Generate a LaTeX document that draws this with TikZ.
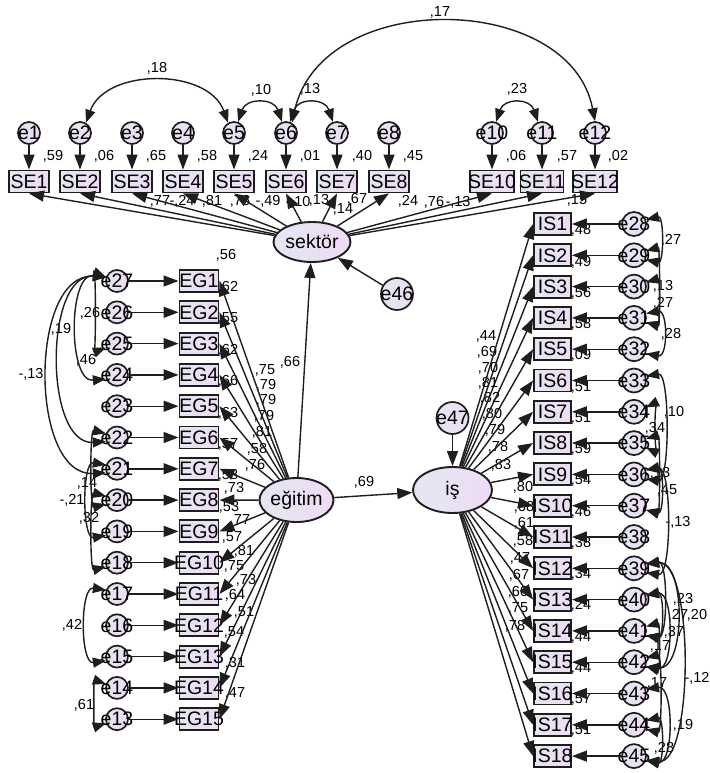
\documentclass[tikz,border=0pt]{standalone}
\usepackage{fontspec}
\setmainfont{Liberation Sans}
\usetikzlibrary{arrows.meta,shapes.geometric}
\definecolor{fillA}{RGB}{228,231,241}
\definecolor{fillB}{RGB}{238,219,246}
\definecolor{nline}{RGB}{30,30,30}
\newcommand\mytxt[1]{\makebox[0pt]{#1}}
\newcounter{lbc}
\newcommand\lb[2]{\stepcounter{lbc}\node[lab] (lb\thelbc) at #1 {#2};}
\newcommand\rcov[3]{\draw[cov] (#1.20) .. controls +(#3,-4) and +(#3,4) .. (#2.-20);}
\newcommand\lcov[3]{\draw[cov] (#1.160) .. controls +(-#3,-4) and +(-#3,4) .. (#2.200);}
\begin{document}
\begin{tikzpicture}[x=1pt,y=-1pt,
  shd/.style={left color=fillA,right color=fillB,draw=nline},
  obs/.style={shd,line width=1.9pt,rectangle,inner sep=0pt,minimum height=22pt,minimum width=39pt,font=\fontsize{19.5}{19}\selectfont},
  err/.style={shd,line width=1.7pt,circle,inner sep=0pt,minimum size=22pt,font=\fontsize{19.5}{19}\selectfont},
  lat/.style={shd,line width=1.9pt,ellipse,inner sep=0pt,font=\fontsize{19.5}{19}\selectfont},
  lab/.style={inner sep=0pt,font=\fontsize{14.5}{15}\selectfont},
  reg/.style={line width=1.4pt,draw=nline,-{Triangle[length=15pt,width=11pt]}},
  cov/.style={line width=1.4pt,draw=nline,{Triangle[length=13pt,width=10pt]}-{Triangle[length=13pt,width=10pt]}},
]
\useasboundingbox (0,0) rectangle (709,773);

% ---------- labels (drawn first) ----------
% top R2
\lb{(53,156)}{,59}\lb{(104,156)}{,06}\lb{(156,156)}{,65}\lb{(207,156)}{,58}
\lb{(258,156)}{,24}\lb{(310,156)}{,01}\lb{(362,156)}{,40}\lb{(413,156)}{,45}
\lb{(516,156)}{,06}\lb{(567,156)}{,57}\lb{(618,156)}{,02}
% top covariances
\lb{(157,68)}{,18}\lb{(261,90)}{,10}\lb{(310,89)}{,13}\lb{(440,12)}{,17}\lb{(517,89)}{,23}
% sektor loadings
\lb{(160,201)}{,77}\lb{(182,201)}{-,24}\lb{(212,201)}{,81}\lb{(240,201)}{,76}
\lb{(268,201)}{-,49}\lb{(298,202)}{-,10}\lb{(319,200)}{,13}\lb{(343,209)}{,14}
\lb{(357,199)}{,67}\lb{(408,201)}{,24}\lb{(434,202)}{,76}\lb{(458,202)}{-,13}
% structural
\lb{(290,362)}{,66}\lb{(364,482)}{,69}
% EG R2
\lb{(226,255)}{,56}\lb{(228,287)}{,62}\lb{(228,318)}{,55}\lb{(228,350)}{,62}
\lb{(228,381)}{,66}\lb{(228,413)}{,63}\lb{(228,444)}{,57}\lb{(228,475)}{,58}
\lb{(229,507)}{,53}\lb{(232,537)}{,57}\lb{(234,566)}{,75}\lb{(235,595)}{,64}
\lb{(234,632)}{,54}\lb{(235,663)}{,31}\lb{(235,693)}{,47}
% EG loadings
\lb{(265,370)}{,75}\lb{(266,385)}{,79}\lb{(266,400)}{,79}\lb{(264,416)}{,79}
\lb{(262,432)}{,81}\lb{(257,449)}{,58}\lb{(255,465)}{,76}\lb{(234,488)}{,73}
\lb{(240,520)}{,77}\lb{(244,551)}{,81}\lb{(246,580)}{,73}\lb{(244,612)}{,51}
% left covariances
\lb{(90,313)}{,26}\lb{(86,360)}{,46}\lb{(61,329)}{,19}\lb{(31,374)}{-,13}
\lb{(87,483)}{,14}\lb{(72,500)}{-,21}\lb{(89,518)}{,32}\lb{(72,625)}{,42}\lb{(84,705)}{,61}
% IS loadings
\lb{(486,336)}{,44}\lb{(487,352)}{,69}\lb{(488,368)}{,70}\lb{(488,383)}{,81}
\lb{(490,398)}{,82}\lb{(492,414)}{,80}\lb{(495,430)}{,79}\lb{(498,447)}{,78}
\lb{(501,465)}{,83}\lb{(523,487)}{,80}\lb{(524,507)}{,68}\lb{(524,523)}{,61}
\lb{(523,541)}{,58}\lb{(520,558)}{,47}\lb{(519,575)}{,67}\lb{(518,592)}{,60}
\lb{(518,608)}{,75}\lb{(515,626)}{,78}
% IS R2
\lb{(577,200)}{,15}
\lb{(581,230)}{,48}\lb{(581,262)}{,49}\lb{(581,293)}{,56}\lb{(581,324)}{,58}
\lb{(581,355)}{,09}\lb{(581,387)}{,51}\lb{(581,418)}{,51}\lb{(581,449)}{,59}
\lb{(581,480)}{,54}\lb{(581,512)}{,46}\lb{(581,543)}{,38}\lb{(581,574)}{,34}
\lb{(581,605)}{,24}\lb{(581,637)}{,44}\lb{(581,668)}{,44}\lb{(581,699)}{,57}
\lb{(581,730)}{,51}
% right covariances
\lb{(671,240)}{,27}\lb{(663,286)}{,13}\lb{(663,303)}{,27}\lb{(671,334)}{,28}
\lb{(674,412)}{,10}\lb{(655,428)}{,34}\lb{(660,473)}{,13}\lb{(667,490)}{,45}
\lb{(678,522)}{-,13}\lb{(683,599)}{,23}\lb{(678,615)}{,27}\lb{(697,615)}{,20}
\lb{(674,632)}{,37}\lb{(660,646)}{,17}\lb{(657,683)}{,17}\lb{(697,678)}{-,12}
\lb{(683,725)}{,19}\lb{(664,748)}{,28}

% ---------- nodes ----------
\node[lat,minimum width=77pt,minimum height=40pt] (sek) at (312,242) {\mytxt{sektör}};
\node[lat,minimum width=74pt,minimum height=44pt] (eg) at (296.5,500) {\mytxt{eğitim}};
\node[lat,minimum width=79pt,minimum height=46pt] (is) at (452.5,490) {\mytxt{iş}};
\node[err,minimum size=32pt] (e46) at (397,294) {\mytxt{e46}};
\node[err,minimum size=32pt] (e47) at (452.5,418) {\mytxt{e47}};

\foreach \i/\x/\w in {1/29/40,2/80/40,3/132/40,4/183/40,5/234/40,6/286/40,7/337/40,8/389/40,10/492/44,11/542/43,12/595/44} {
  \node[err] (e\i) at (\x,133) {\mytxt{e\i}};
  \node[obs,minimum width=\w pt] (SE\i) at (\x,181.5) {\mytxt{SE\i}};
}
\foreach \k in {1,...,15} {
  \pgfmathsetmacro\yy{281+(\k-1)*31.3}
  \pgfmathtruncatemacro\ee{28-\k}
  \node[obs] (EG\k) at (199,\yy) {\mytxt{EG\k}};
  \node[err] (e\ee) at (117,\yy) {\mytxt{e\ee}};
}
\foreach \k in {1,...,18} {
  \pgfmathsetmacro\yy{224+(\k-1)*31.3}
  \pgfmathtruncatemacro\ee{27+\k}
  \node[obs,minimum width=37pt] (IS\k) at (552.5,\yy) {\mytxt{IS\k}};
  \node[err,minimum size=24pt] (e\ee) at (634,\yy) {\mytxt{e\ee}};
}

% ---------- connectors ----------
\foreach \i in {1,...,8,10,11,12} {
  \draw[reg] (e\i) -- (SE\i);
  \draw[reg] (sek) -- (SE\i.south);
}
\foreach \k in {1,...,15} {
  \pgfmathtruncatemacro\ee{28-\k}
  \draw[reg] (e\ee) -- (EG\k);
  \draw[reg] (eg) -- (EG\k.east);
}
\foreach \k in {1,...,18} {
  \pgfmathtruncatemacro\ee{27+\k}
  \draw[reg] (e\ee) -- (IS\k);
  \draw[reg] (is) -- (IS\k.west);
}
\draw[reg] (e46) -- (sek);
\draw[reg] (eg) -- (sek);
\draw[reg] (eg) -- (is);
\draw[reg] (e47) -- (is);

% top covariances
\draw[cov] (e5.120) .. controls +(-20,-55) and +(20,-55) .. (e2.60);
\draw[cov] (e5.70) .. controls +(8,-24) and +(-8,-24) .. (e6.110);
\draw[cov] (e6.70) .. controls +(8,-24) and +(-8,-24) .. (e7.110);
\draw[cov] (e6.60) .. controls +(30,-135) and +(-25,-130) .. (e12.north);
\draw[cov] (e10.70) .. controls +(8,-24) and +(-8,-24) .. (e11.110);

% left covariances
\lcov{e27}{e25}{10}
\lcov{e27}{e24}{38}
\lcov{e27}{e22}{62}
\lcov{e27}{e21}{77}
\lcov{e22}{e20}{16}
\lcov{e21}{e19}{24}
\lcov{e20}{e18}{16}
\lcov{e17}{e15}{26}
\lcov{e14}{e13}{12}

% right covariances
\rcov{e28}{e29}{18}
\rcov{e29}{e31}{14}
\rcov{e30}{e31}{14}
\rcov{e31}{e32}{22}
\rcov{e33}{e36}{24}
\rcov{e34}{e35}{8}
\rcov{e35}{e37}{14}
\rcov{e36}{e37}{18}
\rcov{e36}{e39}{26}
\rcov{e39}{e41}{22}
\rcov{e40}{e41}{18}
\rcov{e39}{e42}{40}
\rcov{e40}{e42}{28}
\rcov{e41}{e42}{14}
\rcov{e42}{e44}{16}
\rcov{e39}{e45}{48}
\rcov{e43}{e45}{28}
\rcov{e44}{e45}{18}
\end{tikzpicture}
\end{document}
